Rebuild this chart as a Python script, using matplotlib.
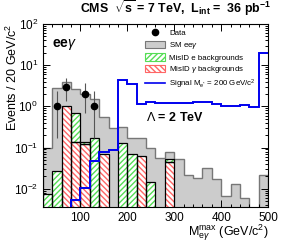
import numpy as np
import matplotlib
matplotlib.use('Agg')
import matplotlib.pyplot as plt
from matplotlib.ticker import LogLocator, MultipleLocator, NullFormatter
from matplotlib.lines import Line2D
from matplotlib.patches import Patch

plt.rcParams['font.family'] = ['Liberation Sans', 'DejaVu Sans']
plt.rcParams['mathtext.fontset'] = 'custom'
plt.rcParams['mathtext.rm'] = 'Liberation Sans'
plt.rcParams['mathtext.it'] = 'Liberation Sans:italic'
plt.rcParams['mathtext.bf'] = 'Liberation Sans:bold'

# bins of 20 GeV from 20 to 500
edges = np.arange(20, 501, 20)

sm_total = [0.1, 2.8, 4.0, 2.7, 2.0, 1.5, 0.55, 0.3, 0.32, 0.17, 0.17, 0.1,
            0.057, 0.076, 0.053, 0.022, 0.018, 0.032, 0.017, 0.0065, 0.013, 0.006, 0, 0.021]
misid_gamma = [0, 0, 1.0, 0.14, 0.12, 0, 0.07, 0, 0, 0, 0.063, 0,
               0, 0.044, 0, 0, 0, 0, 0, 0, 0, 0, 0, 0]
misid_e = [0.007, 0.026, 0, 0.54, 0.02, 0.17, 0, 0, 0.13, 0.07, 0, 0.014,
           0, 0.008, 0, 0, 0, 0, 0, 0, 0, 0, 0, 0]
signal = [0, 0, 0, 0.0054, 0.0104, 0.046, 0.076, 0.088, 4.4, 3.5, 1.13, 1.3,
          1.24, 1.24, 1.2, 1.2, 1.28, 1.28, 1.15, 1.05, 1.05, 1.1, 0.96, 19.5]

data_x = [50, 70, 110, 130]
data_n = [1, 3, 2, 1]
data_lo = [0.827, 1.63, 1.29, 0.827]
data_hi = [1.30, 1.77, 1.64, 1.30]

ymin, ymax = 3.6e-3, 100
base = ymin / 10

fig = plt.figure(figsize=(2.84, 2.45), dpi=100)
ax = fig.add_axes([0.151, 0.155, 0.793, 0.747])

ax.stairs(sm_total, edges, baseline=1e-6, fill=True, facecolor='#cccccc',
          edgecolor='#777777', linewidth=1.0, zorder=1)

lo = edges[:-1]
red = np.array(misid_gamma)
green = np.array(misid_e)
for i in range(len(lo)):
    if green[i] > 0:
        b = red[i] if red[i] > 0 else base
        ax.bar(lo[i], green[i], width=20, bottom=b, align='edge', facecolor='white',
               edgecolor='#55dd55', hatch='//////', linewidth=0, zorder=2)
        ax.bar(lo[i], green[i], width=20, bottom=b, align='edge', facecolor='none',
               edgecolor='black', linewidth=0.9, zorder=3)
    if red[i] > 0:
        ax.bar(lo[i], red[i] - base, width=20, bottom=base, align='edge', facecolor='white',
               edgecolor='#ff6666', hatch='\\\\\\\\\\\\', linewidth=0, zorder=2)
        ax.bar(lo[i], red[i] - base, width=20, bottom=base, align='edge', facecolor='none',
               edgecolor='black', linewidth=0.9, zorder=3)

ax.stairs(signal, edges, baseline=None, color='#0000ee', linewidth=1.4, zorder=4)

ax.errorbar(data_x, data_n, yerr=[data_lo, data_hi], fmt='o', color='black',
            ecolor='#555555', elinewidth=0.8, markersize=4.5, capsize=0, zorder=5)

ax.set_yscale('log')
ax.set_xlim(20, 500)
ax.set_ylim(ymin, ymax)
ax.xaxis.set_major_locator(MultipleLocator(100))
ax.xaxis.set_minor_locator(MultipleLocator(20))
ax.yaxis.set_major_locator(LogLocator(base=10, numticks=10))
ax.yaxis.set_minor_locator(LogLocator(base=10, subs=np.arange(2, 10), numticks=20))
ax.yaxis.set_minor_formatter(NullFormatter())
ax.tick_params(which='both', direction='in', top=True, right=True, labelsize=8.5, width=0.7)
ax.tick_params(which='major', length=5)
ax.tick_params(which='minor', length=2.5)
for s in ax.spines.values():
    s.set_linewidth(0.8)

ax.set_xlabel(r'M$_{\mathrm{e}\gamma}^{\mathrm{max}}$ (GeV/c$^{2}$)', fontsize=9, ha='right')
ax.xaxis.set_label_coords(1.0, -0.085)
ax.set_ylabel(r'Events / 20 GeV/c$^{2}$', fontsize=9, ha='right')
ax.yaxis.set_label_coords(-0.1, 1.0)

fig.text(0.955, 0.945, r'CMS  $\sqrt{\mathbf{s}}$ = 7 TeV,  L$_{\mathbf{int}}$ =  36 pb$^{\mathbf{-1}}$',
         ha='right', va='baseline', fontsize=8.9, fontweight='bold')
ax.text(0.04, 0.93, r'ee$\gamma$', transform=ax.transAxes, fontsize=10, fontweight='bold', va='top')
ax.text(0.46, 0.49, r'$\Lambda$ = 2 TeV', transform=ax.transAxes, fontsize=9, fontweight='bold', va='center')

handles = [
    Line2D([], [], marker='o', color='black', linestyle='none', markersize=4.5),
    Patch(facecolor='#cccccc', edgecolor='#777777', linewidth=0.8),
    Patch(facecolor='white', edgecolor='#55dd55', hatch='//////', linewidth=0.8),
    Patch(facecolor='white', edgecolor='#ff6666', hatch='\\\\\\\\\\\\', linewidth=0.8),
    Line2D([], [], color='#0000ee', linewidth=1.2),
]
labels = ['Data', r'SM ee$\gamma$', 'MisID e backgrounds', r'MisID $\gamma$ backgrounds',
          r'Signal M$_{\mathrm{e}^{*}}$ = 200 GeV/c$^{2}$']
leg = ax.legend(handles, labels, loc='upper left', bbox_to_anchor=(0.43, 1.0), fontsize=5.7,
                frameon=False, handlelength=2.6, handleheight=1.0, labelspacing=0.32,
                borderpad=0.15, handletextpad=0.5)

fig.savefig('out.png', dpi=100)
